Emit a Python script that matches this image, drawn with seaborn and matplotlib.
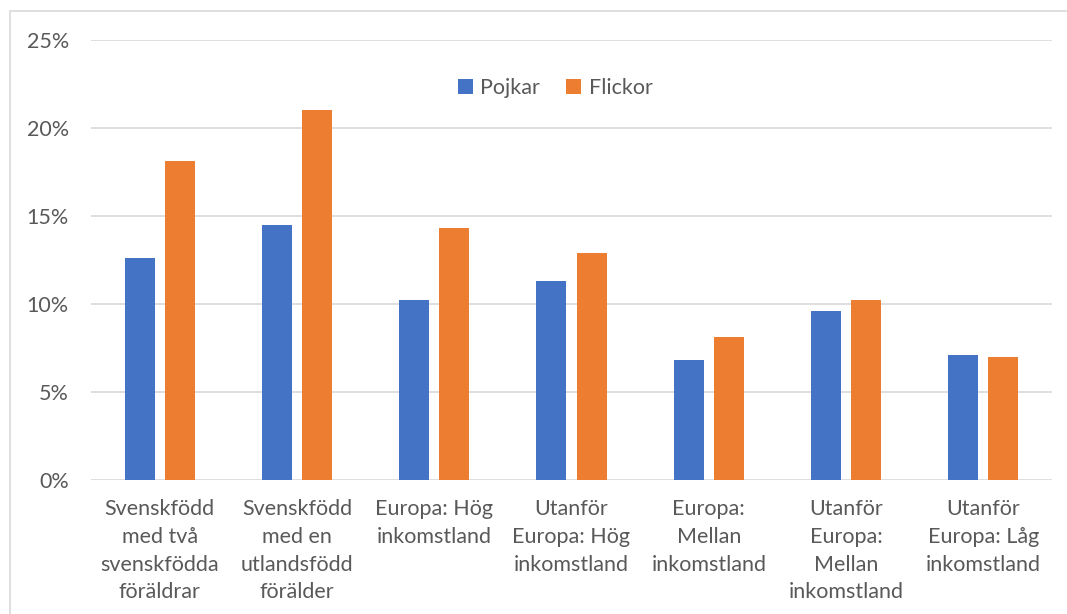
import pandas as pd
import matplotlib.pyplot as plt
import matplotlib.patches as mpatches
import seaborn as sns
from matplotlib.ticker import FuncFormatter

categories = [
    'Svenskfödd\nmed två\nsvenskfödda\nföräldrar',
    'Svenskfödd\nmed en\nutlandsfödd\nförälder',
    'Europa: Hög\ninkomstland',
    'Utanför\nEuropa: Hög\ninkomstland',
    'Europa:\nMellan\ninkomstland',
    'Utanför\nEuropa:\nMellan\ninkomstland',
    'Utanför\nEuropa: Låg\ninkomstland',
]
pojkar = [12.6, 14.5, 10.2, 11.3, 6.8, 9.6, 7.1]
flickor = [18.1, 21.0, 14.3, 12.9, 8.1, 10.2, 7.0]

df = pd.DataFrame({
    'kategori': categories * 2,
    'kon': ['Pojkar'] * len(categories) + ['Flickor'] * len(categories),
    'andel': pojkar + flickor,
})

sns.set_theme(style='white')
plt.rcParams['font.family'] = ['Lato', 'DejaVu Sans']
text_color = '#595959'
fs = 15.5

fig = plt.figure(figsize=(10.67, 6.14), dpi=100)
ax = fig.add_axes([91 / 1067, 1 - 480 / 614, 961 / 1067, 440 / 614])

# chart frame like in Excel
fig.patches.append(mpatches.Rectangle((10 / 1067, -0.1), 1.2, 1 - 11 / 614 + 0.1,
                                      transform=fig.transFigure, fill=False,
                                      edgecolor='#d9d9d9', linewidth=1.2))

sns.barplot(data=df, x='kategori', y='andel', hue='kon', order=categories,
            hue_order=['Pojkar', 'Flickor'],
            palette={'Pojkar': '#4472C4', 'Flickor': '#ED7D31'},
            width=0.583, gap=0.25, saturation=1, linewidth=0, ax=ax, zorder=3)

ax.set_ylim(0, 25)
ax.set_xlim(-0.5, len(categories) - 0.5)
ax.set_yticks([0, 5, 10, 15, 20, 25])
ax.yaxis.set_major_formatter(FuncFormatter(lambda v, p: f'{v:.0f}%'))
ax.yaxis.grid(True, color='#d9d9d9', linewidth=1.2)
ax.set_axisbelow(True)
for s in ax.spines.values():
    s.set_visible(False)
ax.set_xlabel('')
ax.set_ylabel('')
ax.tick_params(axis='y', length=0, pad=16, labelsize=fs, labelcolor=text_color)
ax.tick_params(axis='x', length=0, pad=14, labelsize=fs, labelcolor=text_color)
for lab in ax.get_xticklabels():
    lab.set_linespacing(1.48)

leg = ax.legend(loc='center', bbox_to_anchor=(0.483, 0.89), ncol=2, frameon=False,
                fontsize=fs, handlelength=0.7, handleheight=0.7,
                handletextpad=0.35, columnspacing=1.2)
for t in leg.get_texts():
    t.set_color(text_color)

fig.savefig('out.png', dpi=100)
